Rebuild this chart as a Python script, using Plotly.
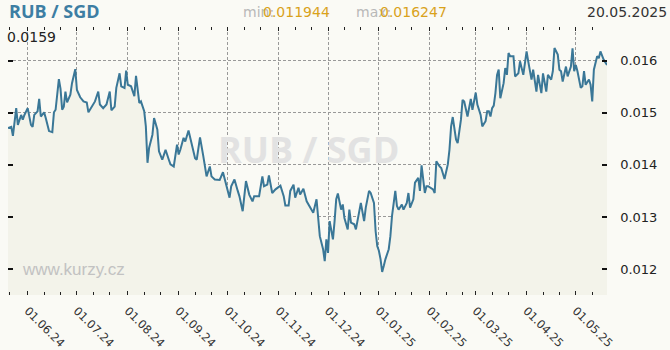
import pandas as pd
import plotly.graph_objects as go

# ---- data ----
start_date = "2024-05-20"
day_offsets = [
    0, 2, 3, 4, 5, 6, 8, 9, 10, 12, 14, 15, 16, 18, 19, 20, 22, 23, 25, 27, 28, 29, 31, 32, 33, 34, 35, 36, 38, 39,
    41, 42, 44, 46, 48, 49, 51, 53, 55, 56, 58, 60, 62, 63, 65, 66, 68, 69, 71, 72, 73, 75, 77, 78, 80, 81, 83, 84,
    85, 86, 88, 89, 91, 92, 94, 96, 98, 99, 101, 103, 104, 105, 107, 108, 110, 112, 114, 115, 117, 119, 121, 123,
    124, 126, 129, 131, 133, 135,
    136, 138, 140, 141, 143, 144, 145, 147, 149, 150, 153, 155, 156, 158, 159, 161, 163, 166, 168, 169, 171, 172,
    174, 175, 177, 178, 180, 182, 184, 186, 188, 189, 190, 192, 193, 194, 195, 196, 198, 199, 200, 201, 203, 204,
    205, 207, 208, 209, 211, 212, 214, 215, 217, 218, 220, 221, 223, 224, 225, 226, 227, 228, 229, 230, 232, 233,
    234, 236, 237, 238, 240, 241, 243, 244, 245, 247, 248, 250, 251, 252, 254, 255, 256, 259, 260, 261, 263,
    264, 266, 267, 268, 269, 270, 271, 272, 273, 274, 275, 276, 277, 278, 280, 281, 282, 283, 285, 286, 288, 289,
    291, 292, 293, 294, 295, 296, 297, 298, 299, 300, 302, 303, 304, 305, 306, 308, 309, 311, 312, 314, 316, 317,
    319, 320, 321, 322, 323, 325, 326, 328, 329, 331, 332, 333, 335, 336, 337, 338, 340, 341, 343, 344, 345, 346,
    347, 349, 350, 351, 352, 354, 355, 356, 357, 359, 360, 361, 363, 365,
]
rates = [
    0.01471, 0.01473, 0.01456, 0.01484, 0.01509, 0.01477, 0.01496, 0.01487, 0.01496, 0.01509, 0.01477, 0.01473,
    0.01496, 0.01503, 0.01527, 0.01493, 0.01501, 0.01490, 0.01465, 0.01463, 0.01501, 0.01506, 0.01565, 0.01546,
    0.01506, 0.01512, 0.01541, 0.01520, 0.01535, 0.01557, 0.01584, 0.01544, 0.01530, 0.01522, 0.01520, 0.01501,
    0.01512, 0.01522, 0.01541, 0.01516, 0.01509, 0.01516, 0.01541, 0.01505, 0.01512, 0.01548, 0.01576, 0.01551,
    0.01548, 0.01581, 0.01554, 0.01551, 0.01532, 0.01571, 0.01519, 0.01522, 0.01503, 0.01474, 0.01404, 0.01433,
    0.01458, 0.01490, 0.01468, 0.01426, 0.01410, 0.01429, 0.01410, 0.01401, 0.01397, 0.01439, 0.01420, 0.01429,
    0.01452, 0.01445, 0.01466, 0.01436, 0.01413, 0.01410, 0.01453, 0.01417, 0.01378, 0.01397, 0.01378, 0.01372,
    0.01371, 0.01386, 0.01359, 0.01337,
    0.01359, 0.01372, 0.01350, 0.01340, 0.01311, 0.01343, 0.01369, 0.01343, 0.01330, 0.01340, 0.01340, 0.01378,
    0.01359, 0.01362, 0.01380, 0.01346, 0.01353, 0.01360, 0.01340, 0.01322, 0.01322, 0.01350, 0.01362, 0.01337,
    0.01356, 0.01343, 0.01354, 0.01330, 0.01318, 0.01308, 0.01334, 0.01292, 0.01263, 0.01238, 0.01215, 0.01257,
    0.01231, 0.01292, 0.01257, 0.01292, 0.01334, 0.01345, 0.01314, 0.01324, 0.01298, 0.01276, 0.01314, 0.01289,
    0.01286, 0.01276, 0.01314, 0.01327, 0.01292, 0.01318, 0.01350, 0.01346, 0.01327, 0.01273, 0.01244, 0.01235,
    0.01219, 0.011944, 0.01206, 0.01219, 0.01238, 0.01263, 0.01302, 0.01350, 0.01321, 0.01314, 0.01324, 0.01314,
    0.01327, 0.01346, 0.01318, 0.01334, 0.01366, 0.01375, 0.01350, 0.01399, 0.01346, 0.01359, 0.01359, 0.01353,
    0.01346, 0.01407, 0.01397,
    0.01394, 0.01373, 0.01391, 0.01401, 0.01429, 0.01474, 0.01492, 0.01474, 0.01449, 0.01442, 0.01461, 0.01487,
    0.01525, 0.01522, 0.01493, 0.01512, 0.01527, 0.01506, 0.01539, 0.01516, 0.01496, 0.01474, 0.01484, 0.01503,
    0.01503, 0.01493, 0.01509, 0.01514, 0.01538, 0.01573, 0.01583, 0.01528, 0.01557, 0.01586, 0.01573, 0.01615,
    0.01609, 0.01609, 0.01570, 0.01576, 0.01599, 0.01573, 0.01618, 0.01599, 0.01564, 0.01583, 0.01560, 0.01541,
    0.01573, 0.01538, 0.01576, 0.01541, 0.01573, 0.01564, 0.01580, 0.016247, 0.01612, 0.01583, 0.01580, 0.01560,
    0.01589, 0.01570, 0.01589, 0.01624, 0.01580, 0.01592, 0.01580, 0.01548, 0.01551, 0.01580, 0.01554, 0.01564,
    0.01554, 0.01522, 0.01583, 0.01609, 0.01605, 0.01618, 0.01602, 0.01592,
]
y_ticks = [0.012, 0.013, 0.014, 0.015, 0.016]
month_ticks = ["2024-06-01", "2024-07-01", "2024-08-01", "2024-09-01", "2024-10-01", "2024-11-01",
               "2024-12-01", "2025-01-01", "2025-02-01", "2025-03-01", "2025-04-01", "2025-05-01"]
title_text = "RUB / SGD"
min_label, min_value = "min:", "0.011944"
max_label, max_value = "max:", "0.016247"
last_value = "0.0159"
date_text = "20.05.2025"
site_text = "www.kurzy.cz"

dates = pd.to_datetime(start_date) + pd.to_timedelta(day_offsets, unit="D")
minor_ticks = [d for d in pd.date_range("2024-05-01", "2025-05-31", freq="D")
               if d.day in (11, 21) and pd.Timestamp("2024-05-20") <= d <= pd.Timestamp("2025-05-20")]

# ---- layout geometry ----
W, H = 670, 350
L, R, T, B = 8, 63, 27, 55
pw, ph = W - L - R, H - T - B


def px(x):
    return (x - L) / pw


def py(y):
    return (H - B - y) / ph


BG = "#fafaf5"
FILL = "#f3f3ea"
LINE = "#3a7797"
GRID = "#999999"

fig = go.Figure()
fig.add_trace(go.Scatter(
    x=dates, y=rates, mode="lines",
    line=dict(color=LINE, width=2),
    fill="tozeroy", fillcolor=FILL,
    hoverinfo="skip", showlegend=False,
))

fig.update_layout(
    width=W, height=H,
    margin=dict(l=L, r=R, t=T, b=B, pad=0),
    paper_bgcolor=BG, plot_bgcolor=BG,
    showlegend=False,
    xaxis=dict(
        type="date",
        automargin=False,
        range=["2024-05-20", "2025-05-20"],
        tickmode="array", tickvals=month_ticks, tickformat="%d.%m.%y",
        tickangle=45,
        tickfont=dict(family="DejaVu Sans", size=11.5, color="#333333"),
        ticklabelstandoff=4,
        ticks="inside", ticklen=4, tickcolor="#222222", tickwidth=1,
        showline=True, linecolor=BG, linewidth=0.1, mirror="ticks",
        showgrid=True, gridcolor=GRID, griddash="3px,2px", gridwidth=1,
        zeroline=False,
        minor=dict(tickmode="array", tickvals=minor_ticks, ticks="inside", ticklen=3,
                   tickcolor="#222222", showgrid=False),
        fixedrange=True,
    ),
    yaxis=dict(
        side="right",
        automargin=False,
        range=[0.0115, 0.01665],
        tickmode="array", tickvals=y_ticks, tickformat=".3f",
        tickfont=dict(family="DejaVu Sans", size=13, color="#222222"),
        ticks="inside", ticklen=5, tickcolor="#111111", tickwidth=2,
        ticklabelstandoff=10,
        showline=True, linecolor=BG, linewidth=0.1, mirror="ticks",
        showgrid=True, gridcolor=GRID, griddash="3px,2px", gridwidth=1,
        zeroline=False,
        fixedrange=True,
    ),
)

ann = []
ann.append(dict(text=f"<b>{title_text}</b>", x=px(8), y=py(11), xanchor="left", yanchor="middle",
                font=dict(family="Open Sans", size=18, color="#3d7ea3")))
ann.append(dict(text=min_label, x=px(242), y=py(12), xanchor="left", yanchor="middle",
                font=dict(family="DejaVu Sans", size=14, color="#b8b8b8")))
ann.append(dict(text=min_value, x=px(262), y=py(12), xanchor="left", yanchor="middle",
                font=dict(family="DejaVu Sans", size=14, color="#d9a21b")))
ann.append(dict(text=max_label, x=px(355), y=py(12), xanchor="left", yanchor="middle",
                font=dict(family="DejaVu Sans", size=14, color="#b8b8b8")))
ann.append(dict(text=max_value, x=px(379), y=py(12), xanchor="left", yanchor="middle",
                font=dict(family="DejaVu Sans", size=14, color="#d9a21b")))
ann.append(dict(text=date_text, x=px(668), y=py(12), xanchor="right", yanchor="middle",
                font=dict(family="DejaVu Sans", size=14, color="#333333")))
ann.append(dict(text=last_value, x=px(6), y=py(37), xanchor="left", yanchor="middle",
                font=dict(family="DejaVu Sans", size=14, color="#222222")))
ann.append(dict(text=f"<b>{title_text}</b>", x=px(308), y=py(149), xanchor="center", yanchor="middle",
                font=dict(family="Open Sans", size=36, color="#e2e2e2")))
ann.append(dict(text=site_text, x=px(21), y=py(269), xanchor="left", yanchor="middle",
                font=dict(family="Liberation Sans", size=17, color="#c2c2c2")))
for a in ann:
    a.update(xref="paper", yref="paper", showarrow=False, borderpad=0)
fig.update_layout(annotations=ann)

fig.write_html("out.html")
